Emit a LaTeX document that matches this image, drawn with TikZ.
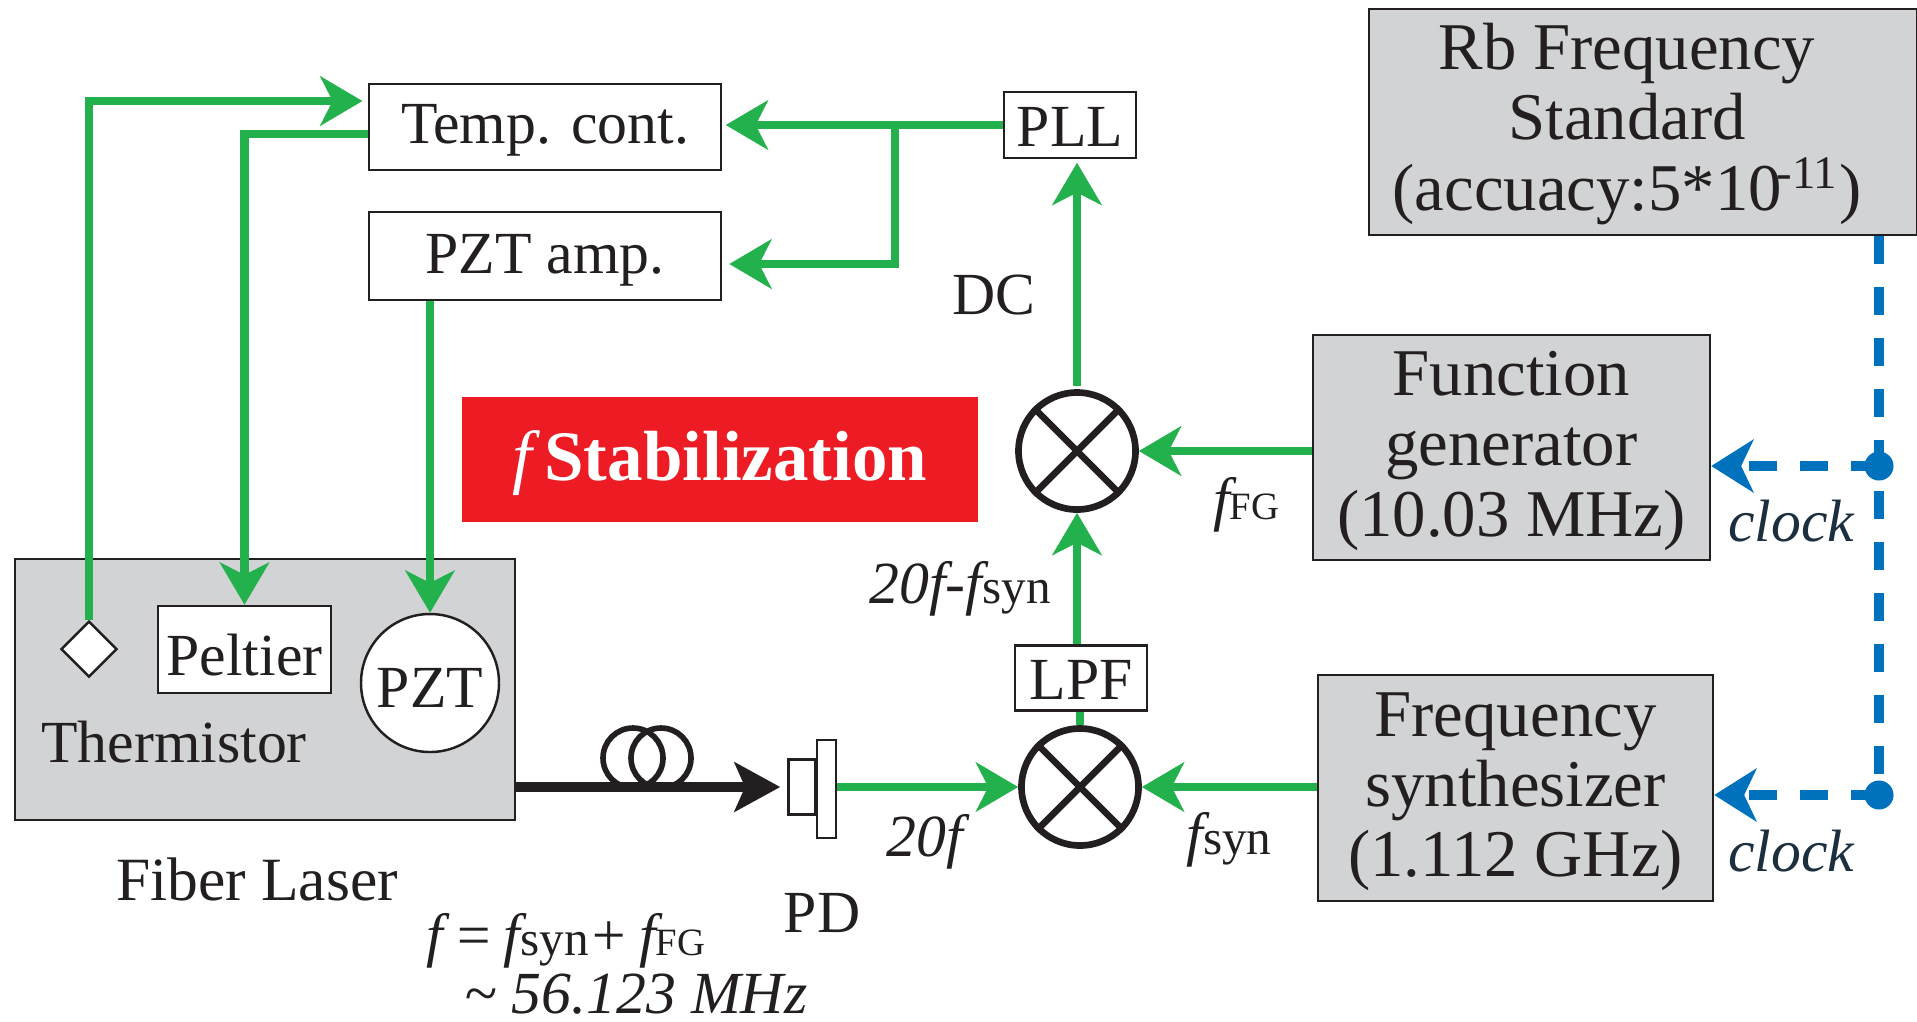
\documentclass[tikz,border=0pt]{standalone}
\usepackage{fontspec}
\setmainfont{Liberation Serif}
\usetikzlibrary{arrows.meta,shapes.geometric}
\definecolor{inkdark}{HTML}{231F20}
\definecolor{boxgray}{HTML}{D1D3D4}
\definecolor{sigreen}{HTML}{22B14C}
\definecolor{clockblue}{HTML}{0071BC}
\definecolor{stabred}{HTML}{ED1C24}
\newcommand{\fsub}[2]{\textit{f}{\fontsize{#2}{#2}\selectfont #1}}
\tikzset{
  smalltext/.style={text=inkdark,font=\fontsize{17}{20}\selectfont,inner sep=0pt},
  bigbox/.style={draw=inkdark,line width=0.7pt,fill=boxgray,text=inkdark,align=center,inner sep=0pt,
    font=\fontsize{19}{20}\selectfont},
  whitebox/.style={smalltext,draw=inkdark,line width=0.7pt,fill=white},
  mixer/.style={circle,draw=inkdark,line width=1.9pt,fill=white,minimum size=1.17cm,inner sep=0pt},
  sigline/.style={draw=sigreen,line width=2.4pt,-{Stealth[length=12pt,width=14pt,inset=3.5pt]}},
  sigplain/.style={draw=sigreen,line width=2.4pt},
  clockline/.style={draw=clockblue,line width=2.6pt,dash pattern=on 8pt off 6.5pt},
  clockarrow/.style={clockline,-{Stealth[length=12pt,width=15pt,inset=3.5pt,color=clockblue]}},
  clockdot/.style={circle,fill=clockblue,minimum size=0.29cm,inner sep=0pt},
  coil/.style={draw=inkdark,line width=1.6pt},
  itlabel/.style={smalltext,font=\fontsize{17}{20}\selectfont\itshape},
}
\begin{document}
\begin{tikzpicture}[x=1cm,y=-1cm]
  \useasboundingbox (0,0) rectangle (19.17,10.21);
  % gray boxes
  \node[bigbox,minimum width=5.48cm,minimum height=2.26cm] (rb) at (16.43,1.22) {};
  \node[smalltext,align=center,font=\fontsize{19}{20}\selectfont] (rbtext) at (16.27,1.24) {Rb Frequency\\Standard\\(accuacy:5*10\kern-1.5pt\textsuperscript{-11})};
  \node[bigbox,minimum width=3.97cm,minimum height=2.25cm] (fg) at (15.115,4.475) {\rule{0pt}{14.5pt}Function\\generator\\(10.03 MHz)};
  \node[bigbox,minimum width=3.95cm,minimum height=2.26cm] (synth) at (15.155,7.88) {\rule{0pt}{14.5pt}Frequency\\synthesizer\\(1.112 GHz)};
  \node[draw=inkdark,line width=0.7pt,fill=boxgray,minimum width=5.0cm,minimum height=2.61cm,inner sep=0pt] (laser) at (2.65,6.895) {};
  % control boxes
  \node[whitebox,minimum width=3.52cm,minimum height=0.86cm,text height=12.5pt,text depth=3pt] (temp) at (5.45,1.27) {Temp. cont.};
  \node[whitebox,minimum width=3.52cm,minimum height=0.88cm,text height=13pt,text depth=3pt] (amp) at (5.45,2.56) {PZT amp.};
  \node[whitebox,minimum width=1.32cm,minimum height=0.66cm,text height=12pt,text depth=0pt] (pll) at (10.70,1.25) {PLL};
  \node[whitebox,minimum width=1.32cm,minimum height=0.65cm,text height=12.5pt,text depth=0pt] (lpf) at (10.81,6.78) {LPF};
  \node[whitebox,minimum width=1.73cm,minimum height=0.87cm,text height=14.8pt,text depth=0pt] (peltier) at (2.445,6.495) {Peltier};
  \node[whitebox,circle,minimum size=1.38cm,text height=14pt,text depth=0pt] (pzt) at (4.30,6.83) {PZT};
  \node[draw=inkdark,line width=0.7pt,fill=white,diamond,minimum size=0.56cm,inner sep=0pt] (therm) at (0.89,6.49) {};
  \node[smalltext] (thermlabel) at (1.74,7.42) {Thermistor};
  \node[smalltext,font=\fontsize{17.5}{20}\selectfont] (laserlabel) at (2.57,8.79) {Fiber Laser};
  % red banner
  \node[fill=stabred,text=white,minimum width=5.16cm,minimum height=1.25cm,inner sep=0pt,text height=16pt,text depth=4pt,font=\fontsize{20.2}{21}\selectfont\bfseries] (banner) at (7.20,4.595) {{\mdseries\itshape f}\,Stabilization};
  % mixers
  \node[mixer] (mixa) at (10.77,4.51) {};
  \node[mixer] (mixb) at (10.80,7.87) {};
  \foreach \m in {mixa,mixb} {
    \draw[draw=inkdark,line width=1.9pt] (\m.45) -- (\m.225);
    \draw[draw=inkdark,line width=1.9pt] (\m.135) -- (\m.315);
  }
  % photodiode
  \node[draw=inkdark,line width=0.7pt,fill=white,minimum width=0.27cm,minimum height=0.55cm,inner sep=0pt] (pdbase) at (8.02,7.87) {};
  \node[draw=inkdark,line width=0.7pt,fill=white,minimum width=0.19cm,minimum height=0.98cm,inner sep=0pt] (pdcap) at (8.265,7.89) {};
  \node[smalltext] (pdlabel) at (8.22,9.13) {PD};
  % fiber and coil
  \draw[coil] (6.33,7.58) circle (0.30);
  \draw[coil] (6.61,7.58) circle (0.30);
  \draw[draw=inkdark,line width=2.6pt,-{Stealth[length=13pt,width=14pt,inset=3pt]},shorten >=2pt] (laser.east |- mixb) -- (pdbase.west);
  % signal path
  \draw[sigline] (pdcap.east |- mixb) -- (mixb.west);
  \draw[sigline] (synth.west |- mixb) -- (mixb.east);
  \draw[sigplain] (mixb.north) -- (lpf.south -| mixb.north);
  \draw[sigline] (lpf.north -| mixa.south) -- (mixa.south);
  \draw[sigline] (fg.west |- mixa) -- (mixa.east);
  \draw[sigline,shorten <=1pt,shorten >=1pt] (mixa.north) -- (pll.south -| mixa.north);
  % feedback
  \coordinate (junc) at (8.95,1.25);
  \draw[sigline,shorten >=1pt] (pll.west) -- (temp.east |- pll.west);
  \draw[sigline,shorten >=2pt] (junc) -- (8.95,2.64) -- (amp.east |- 0,2.64);
  \draw[sigline,shorten >=1.5pt] (therm.north) -- (0.89,1.01) -- (temp.west |- 0,1.01);
  \draw[sigline] (temp.west |- 0,1.34) -- (peltier.north |- 0,1.34) -- (peltier.north);
  \draw[sigline] (pzt.north |- amp.south) -- (pzt.north);
  % clock lines
  \coordinate (tapa) at (18.79,4.66);
  \coordinate (tapb) at (18.79,7.95);
  \draw[clockline] (rb.south -| tapa) -- (tapb);
  \draw[clockarrow] (tapa) -- (fg.east |- tapa);
  \draw[clockarrow] (tapb) -- (synth.east |- tapb);
  \node[clockdot] (dota) at (tapa) {};
  \node[clockdot] (dotb) at (tapb) {};
  % labels
  \node[itlabel] (dc) at (9.94,2.95) {\upshape DC};
  \node[itlabel] (labff) at (12.46,5.05) {\fsub{\upshape FG}{11}};
  \node[itlabel] (labfs) at (12.29,8.40) {\fsub{\upshape syn}{14}};
  \node[itlabel] (labdiff) at (9.60,5.89) {20\textit{f}-\fsub{\upshape syn}{14}};
  \node[itlabel] (labtwenty) at (9.25,8.42) {20\textit{f}};
  \node[itlabel,text=clockblue!20!inkdark] (clocka) at (17.91,5.21) {clock};
  \node[itlabel,text=clockblue!20!inkdark] (clockb) at (17.91,8.51) {clock};
  \node[itlabel] (sumlabel) at (5.66,9.41) {\textit{f}\,=\,\fsub{\upshape syn}{14}+\,\fsub{\upshape FG}{11}};
  \node[itlabel] (approx) at (6.36,9.94) {\textasciitilde{} 56.123 MHz};
\end{tikzpicture}
\end{document}
